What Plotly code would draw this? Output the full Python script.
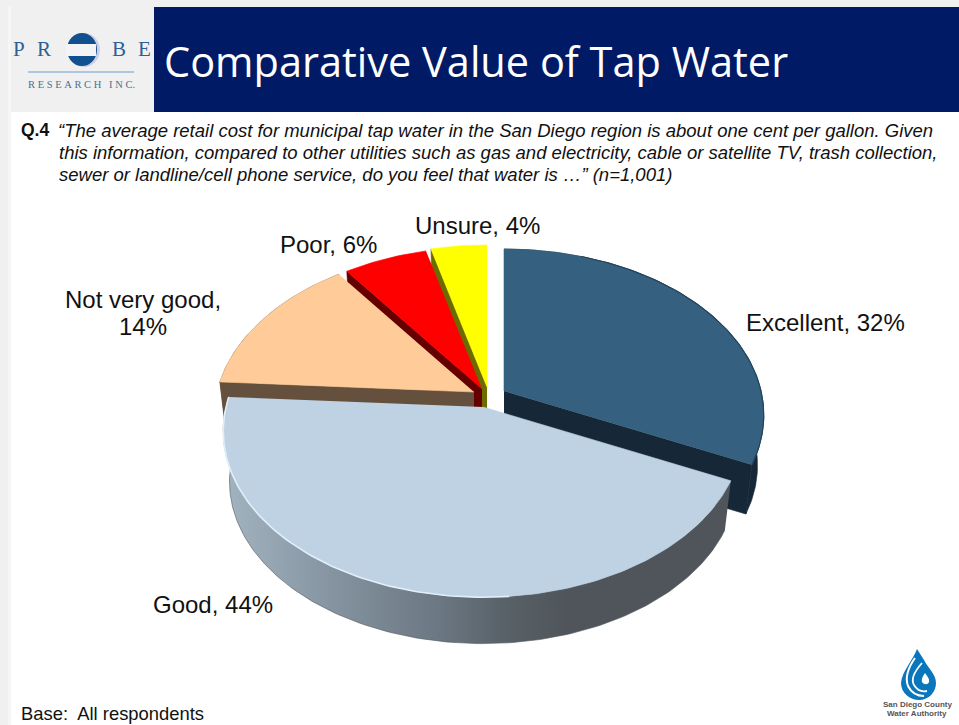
import numpy as np
import plotly.graph_objects as go

# ---- data ----
categories = ["Excellent", "Good", "Not very good", "Poor", "Unsure"]
values = [32, 44, 14, 6, 4]
top_colors = ["#35607F", "#BED2E4", "#FFCC99", "#FF0000", "#FFFF00"]
wall_colors = ["#162838", "#4F555A", "#65503D", "#660000", "#6B6B00"]
# exploded centre of every slice, in page pixels
apex_x = [504, 483, 474, 482, 487]
apex_y = [391, 407, 392, 389, 387]

title = "Comparative Value of Tap Water"
question_lines = [
    "“The average retail cost for municipal tap water in the San Diego region is about one cent per gallon. Given",
    "this information, compared to other utilities such as gas and electricity, cable or satellite TV, trash collection,",
    "sewer or landline/cell phone service, do you feel that water is …” (n=1,001)",
]
base_note = "Base:\u00a0 All respondents"

# ---- tilted-disc projection ----
A, B, P = 257.0, 162.6, 0.145      # half width, half height, perspective
S, D = 0.976, 51.0                  # lower-plane scale, thickness
FONT = "Liberation Sans, Arial, sans-serif"


def rim(i, t0, t1, lower=False):
    th = np.radians(np.arange(t0, t1 + 0.01, 1.0))
    if th[-1] < np.radians(t1):
        th = np.append(th, np.radians(t1))
    X, Y = np.sin(th), -np.cos(th)
    w = 1 - P * Y
    x, y = A * X / w, B * Y / w
    if lower:
        x, y = x * S, y * S + D
    return apex_x[i] + x, apex_y[i] + y


def poly(x, y, color, name, **kw):
    return go.Scatter(x=list(x), y=list(y), mode="lines", fill="toself", fillcolor=color,
                      line=dict(width=0.6, color=color), name=name, hoverinfo="name",
                      showlegend=False, **kw)


starts = np.concatenate([[0], np.cumsum(values)[:-1]]) * 3.6
ends = np.cumsum(values) * 3.6

def top_face(i):
    x, y = rim(i, starts[i], ends[i])
    return poly(np.r_[apex_x[i], x], np.r_[apex_y[i], y], top_colors[i], categories[i])

def cut_wall(i, angle):
    x0, y0 = rim(i, angle, angle)
    x1, y1 = rim(i, angle, angle, lower=True)
    lx = apex_x[i]
    ly = apex_y[i] + D
    return poly([apex_x[i], x0[0], x1[0], lx], [apex_y[i], y0[0], y1[0], ly], wall_colors[i], categories[i])

def rim_wall(i, **kw):
    xa, ya = rim(i, starts[i], ends[i])
    xb, yb = rim(i, starts[i], ends[i], lower=True)
    color = kw.pop("color", wall_colors[i])
    return poly(np.r_[xa, xb[::-1]], np.r_[ya, yb[::-1]], color, categories[i], **kw)


fig = go.Figure()
# back slices first
fig.add_trace(cut_wall(4, starts[4]))
fig.add_trace(top_face(4))
fig.add_trace(cut_wall(3, starts[3]))
fig.add_trace(top_face(3))
fig.add_trace(rim_wall(2))
fig.add_trace(cut_wall(2, starts[2]))
fig.add_trace(top_face(2))
# Excellent
fig.add_trace(rim_wall(0))
fig.add_trace(cut_wall(0, ends[0]))
fig.add_trace(top_face(0))
xr, yr = rim(0, 20, ends[0])
fig.add_trace(go.Scatter(x=list(xr), y=list(yr), mode="lines", line=dict(color="#24445C", width=1.2),
                         hoverinfo="skip", showlegend=False))
# Good, with graded outer wall
fig.add_trace(rim_wall(1, fillgradient=dict(
    type="horizontal",
    colorscale=[[0, "#A3B4C1"], [0.22, "#84939F"], [0.42, "#6C7883"], [0.55, "#596269"],
                [0.68, "#4F555A"], [1, "#4F555A"]])))
fig.add_trace(top_face(1))
xr, yr = rim(1, 175, ends[1])
fig.add_trace(go.Scatter(x=list(xr), y=list(yr), mode="lines", line=dict(color="#E2EFFA", width=1.6),
                         hoverinfo="skip", showlegend=False))

# ---- page furniture ----
shapes = [
    dict(type="rect", x0=0, x1=11, y0=0, y1=725, fillcolor="#F0F0F0", line_width=0, layer="below"),
    dict(type="rect", x0=8, x1=11, y0=7, y1=725, fillcolor="#F6F6F6", line_width=0, layer="below"),
    dict(type="rect", x0=0, x1=959, y0=0, y1=7, fillcolor="#F0F0F0", line_width=0, layer="below"),
    dict(type="rect", x0=11, x1=154, y0=7, y1=112, fillcolor="#F0F0F0", line_width=0, layer="below"),
    dict(type="rect", x0=154, x1=959, y0=7, y1=112, fillcolor="#001A66", line_width=0, layer="below"),
    # Probe logo
    dict(type="circle", x0=68, x1=100, y0=33, y1=67, fillcolor="#CFCFE6", line_width=0, layer="below"),
    dict(type="circle", x0=67, x1=97, y0=33, y1=66, fillcolor="#12508F", line_width=0, layer="below"),
    dict(type="rect", x0=66, x1=96, y0=44, y1=56, fillcolor="#F4F4F4", line_width=0, layer="below"),
    dict(type="line", x0=28, x1=134, y0=72, y1=72, line=dict(color="#6F9BD0", width=1), layer="below"),
    # Water Authority drop
    dict(type="path", path="M917,649 C912,662 902,671 901,683 C901,693 910,700 919,700 C929,700 936,692 936,683 C936,674 928,668 924,660 Z",
         fillcolor="#0A77BD", line_width=0, layer="below"),
    dict(type="path", path="M915,658 C908,668 905,678 908,686 C911,692 917,696 924,696",
         line=dict(color="white", width=2), layer="below"),
    dict(type="path", path="M922,663 C914,672 911,680 914,685 C917,690 922,692 927,691",
         line=dict(color="white", width=1.8), layer="below"),
    dict(type="path", path="M925,673 C923,676 921,679 922,682 C924,685 928,685 929,682 C930,679 927,676 925,673 Z",
         fillcolor="white", line_width=0, layer="below"),
]


def note(x, y, text, size, color="black", anchor="left", family=FONT):
    return dict(x=x, y=y, text=text, showarrow=False, xanchor=anchor, yanchor="middle",
                font=dict(size=size, color=color, family=family), xref="x", yref="y",
                align="center" if anchor == "center" else "left", borderpad=0, borderwidth=0)


annots = [
    note(164, 61, title, 41.5, "white", family="Open Sans, sans-serif"),
    note(21, 130, "<b>Q.4</b>", 17.5, "#111111"),
]
for yy, xx, line in zip([130, 152, 174], [58, 59, 59], question_lines):
    annots.append(note(xx, yy, f"<i>{line}</i>", 18.5, "#111111"))
annots.append(note(21, 713, base_note, 18.4, "#111111"))

SERIF = "Liberation Serif, serif"
for xx, letter in zip([19, 44, 118.5, 144.5], "PRBE"):
    annots.append(note(xx, 49, letter, 21, "#2D5F96", "center", SERIF))
annots.append(note(81.5, 84, "R\u00a0E\u00a0S\u00a0E\u00a0A\u00a0R\u00a0C\u00a0H\u00a0\u00a0\u00a0I\u00a0N\u00a0C.", 10.5, "#4F6F96", "center", SERIF))
annots.append(note(917, 704, "<b>San Diego County</b>", 8, "#555555", "center"))
annots.append(note(917, 713, "<b>Water Authority</b>", 8, "#555555", "center"))

LABEL = 24
annots += [
    note(825, 322, f"{categories[0]}, {values[0]}%", LABEL, "#111111", "center"),
    note(213, 604, f"{categories[1]}, {values[1]}%", LABEL, "#111111", "center"),
    note(143, 299, f"{categories[2]},", LABEL, "#111111", "center"),
    note(143, 326, f"{values[2]}%", LABEL, "#111111", "center"),
    note(328.5, 244, f"{categories[3]}, {values[3]}%", LABEL, "#111111", "center"),
    note(477, 225, f"{categories[4]}, {values[4]}%", LABEL, "#111111", "center"),
]

fig.update_layout(
    width=959, height=725, autosize=False,
    margin=dict(l=0, r=0, t=0, b=0, pad=0),
    paper_bgcolor="white", plot_bgcolor="white",
    xaxis=dict(range=[0, 959], visible=False, fixedrange=True),
    yaxis=dict(range=[725, 0], visible=False, fixedrange=True),
    shapes=shapes, annotations=annots, showlegend=False,
)
fig.write_html("out.html", config=dict(displayModeBar=False),
               post_script="document.body.style.margin='0';document.body.style.overflow='hidden';")
